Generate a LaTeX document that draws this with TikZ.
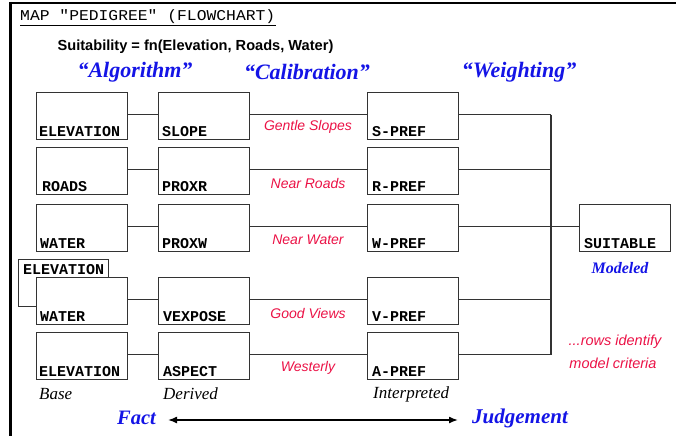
\documentclass[tikz,border=0pt]{standalone}
\usepackage{fontspec}
\setmainfont{Liberation Serif}
\newfontfamily\boxfont{Liberation Mono}
\newfontfamily\titlefont{Liberation Mono}[FakeStretch=1.09]
\newfontfamily\sansfnt{Liberation Sans}
\newfontfamily\handfnt{Liberation Sans}
\usetikzlibrary{arrows.meta}
\definecolor{hdblue}{HTML}{1414E6}
\definecolor{hdred}{HTML}{EB1246}
\definecolor{lnc}{HTML}{333333}
\begin{document}
\begin{tikzpicture}[x=1pt,y=-1pt,
  mbox/.style={draw=lnc,line width=1.3pt,fill=white,minimum width=91pt,minimum height=47pt,inner sep=0pt,anchor=north west},
  blbl/.style={font=\boxfont\bfseries\fontsize{15}{15}\selectfont,anchor=base west,inner sep=0pt},
  conn/.style={draw=lnc,line width=1.2pt},
  redlbl/.style={font=\handfnt\itshape\fontsize{14}{14}\selectfont,text=hdred,inner sep=0pt},
  head/.style={font=\bfseries\itshape\fontsize{22}{22}\selectfont,text=hdblue,inner sep=0pt},
  captxt/.style={font=\itshape\fontsize{17}{17}\selectfont,inner sep=0pt,anchor=west}]
\useasboundingbox (0,0) rectangle (676,436);
% frame
\draw[line width=2pt] (10,3) -- (676,3);
\draw[line width=3pt] (10,2) -- (10,436);
% title
\node[font=\titlefont\fontsize{15}{15}\selectfont,anchor=west,inner sep=0pt] (title) at (20,17) {MAP "PEDIGREE" (FLOWCHART)};
\draw[line width=1pt] (title.south west |- 0,25.5) -- (title.south east |- 0,25.5);
\node[font=\sansfnt\bfseries\fontsize{14.6}{14.6}\selectfont,inner sep=0pt] (formula) at (195.5,47) {Suitability = fn(Elevation, Roads, Water)};
\node[head] (alg) at (135,72) {“Algorithm”};
\node[head] (cal) at (307,72) {“Calibration”};
\node[head] (wgt) at (519,72) {“Weighting”};
% bus coordinate
\coordinate (bus) at (551,0);
% row 1
\node[mbox] (b1) at (36,92) {};
\node[mbox] (d1) at (158,92) {};
\node[mbox] (p1) at (367,92) {};
% row 2
\node[mbox] (b2) at (36,147) {};
\node[mbox] (d2) at (158,147) {};
\node[mbox] (p2) at (367,147) {};
% row 3
\node[mbox] (b3) at (36,204) {};
\node[mbox] (d3) at (158,204) {};
\node[mbox] (p3) at (367,204) {};
% row 4 (with elevation tab behind)
\node[draw=lnc,line width=1.3pt,fill=white,minimum width=90pt,minimum height=47pt,inner sep=0pt,anchor=north west] (tab) at (18,259) {};
\node[blbl,anchor=base west] (tablbl) at (23,274) {ELEVATION};
\node[mbox] (b4) at (36,277) {};
\node[mbox] (d4) at (158,277) {};
\node[mbox] (p4) at (367,277) {};
% row 5
\node[mbox] (b5) at (36,332) {};
\node[mbox] (d5) at (158,332) {};
\node[mbox] (p5) at (367,332) {};
% suitable
\node[mbox] (suit) at (579,204) {};
% box labels
\node[blbl] (lb1) at ([xshift=3pt,yshift=4pt]b1.south west) {ELEVATION};
\node[blbl] (ld1) at ([xshift=4pt,yshift=4pt]d1.south west) {SLOPE};
\node[blbl] (lp1) at ([xshift=5pt,yshift=4pt]p1.south west) {S-PREF};
\node[blbl] (lb2) at ([xshift=6pt,yshift=4pt]b2.south west) {ROADS};
\node[blbl] (ld2) at ([xshift=4pt,yshift=4pt]d2.south west) {PROXR};
\node[blbl] (lp2) at ([xshift=5pt,yshift=4pt]p2.south west) {R-PREF};
\node[blbl] (lb3) at ([xshift=4pt,yshift=4pt]b3.south west) {WATER};
\node[blbl] (ld3) at ([xshift=4pt,yshift=4pt]d3.south west) {PROXW};
\node[blbl] (lp3) at ([xshift=5pt,yshift=4pt]p3.south west) {W-PREF};
\node[blbl] (lb4) at ([xshift=4pt,yshift=4pt]b4.south west) {WATER};
\node[blbl] (ld4) at ([xshift=5pt,yshift=4pt]d4.south west) {VEXPOSE};
\node[blbl] (lp4) at ([xshift=5pt,yshift=4pt]p4.south west) {V-PREF};
\node[blbl] (lb5) at ([xshift=3pt,yshift=4pt]b5.south west) {ELEVATION};
\node[blbl] (ld5) at ([xshift=5pt,yshift=4pt]d5.south west) {ASPECT};
\node[blbl] (lp5) at ([xshift=5pt,yshift=4pt]p5.south west) {A-PREF};
\node[blbl] (ls) at ([xshift=5pt,yshift=4pt]suit.south west) {SUITABLE};
% connectors
\foreach \i in {1,...,5}{
  \draw[conn] ([yshift=1.5pt]b\i.east) -- ([yshift=1.5pt]d\i.west);
  \draw[conn] ([yshift=1.5pt]d\i.east) -- ([yshift=1.5pt]p\i.west);
  \draw[conn] ([yshift=1.5pt]p\i.east) -- ([yshift=1.5pt]p\i.east -| bus);
}
\draw[conn] ([yshift=1.5pt]p1.east -| bus) -- ([yshift=1.5pt]p5.east -| bus);
\draw[conn] ([yshift=1.5pt]suit.west -| bus) -- ([yshift=1.5pt]suit.west);
% red labels
\node[redlbl] (r1) at (308,127) {Gentle Slopes};
\node[redlbl] (r2) at (308,183) {Near Roads};
\node[redlbl] (r3) at (308,240) {Near Water};
\node[redlbl] (r4) at (308,313) {Good Views};
\node[redlbl] (r5) at (308,368) {Westerly};
\node[redlbl,font=\handfnt\itshape\fontsize{14.5}{14.5}\selectfont] (rows1) at (615,342) {...rows identify};
\node[redlbl,font=\handfnt\itshape\fontsize{14.5}{14.5}\selectfont] (rows2) at (613,363) {model criteria};
\node[font=\bfseries\itshape\fontsize{16}{16}\selectfont,text=hdblue,inner sep=0pt] (modeled) at (620,268) {Modeled};
% captions
\node[captxt] (base) at (39,394) {Base};
\node[captxt] (derived) at (163,394) {Derived};
\node[captxt] (interp) at (373,394) {Interpreted};
% fact / judgement
\node[font=\bfseries\itshape\fontsize{20.5}{20.5}\selectfont,text=hdblue,inner sep=0pt,anchor=west] (fact) at (117,418) {Fact};
\node[font=\bfseries\itshape\fontsize{21}{21}\selectfont,text=hdblue,inner sep=0pt,anchor=west] (judge) at (472,418) {Judgement};
\coordinate (aL) at (168,420);
\coordinate (aR) at (458,420);
\draw[line width=1.5pt,{Latex[length=9pt,width=7pt]}-{Latex[length=9pt,width=7pt]}] (aL) -- (aR);
\end{tikzpicture}
\end{document}
